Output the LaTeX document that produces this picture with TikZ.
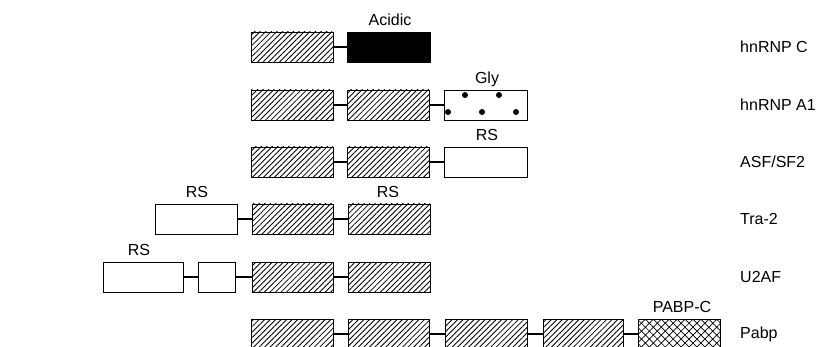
\documentclass[tikz,border=0pt]{standalone}
\usepackage{fontspec}
\setmainfont{Liberation Sans}
\usetikzlibrary{patterns.meta}
\tikzset{
  dombox/.style={draw, line width=0.9pt, minimum width=82pt, minimum height=30pt, inner sep=0pt},
  rbd/.style={dombox, pattern={Lines[angle=45,distance=3.9pt,line width=0.85pt]}},
  acidbox/.style={dombox, fill=black},
  plainbox/.style={dombox, fill=white},
  pabpc/.style={dombox, pattern={Hatch[angle=45,distance=5.6pt,line width=0.7pt]}},
  link/.style={line width=1.2pt},
  lab/.style={font=\fontsize{16}{19}\selectfont, inner sep=0pt},
  domlab/.style={lab, anchor=base},
  protlab/.style={lab, anchor=west},
  dot/.style={fill=black}
}
\begin{document}
\begin{tikzpicture}[x=1pt,y=-1pt]
\useasboundingbox (0,0) rectangle (818,347);

% hnRNP C
\node[rbd] (c1) at (292,47) {};
\node[acidbox, minimum width=83pt] (c2) at (388.5,47) {};
\draw[link] (c1.east) -- (c2.west);
\node[domlab] (cacid) at ([xshift=1.5pt,yshift=6pt]c2.north) {Acidic};
\node[protlab] (pc) at (740,47) {hnRNP C};

% hnRNP A1
\node[rbd] (a1) at (292,105) {};
\node[rbd] (a2) at (388,105) {};
\node[plainbox, minimum width=83pt] (a3) at (485.5,105) {};
\draw[link] (a1.east) -- (a2.west);
\draw[link] (a2.east) -- (a3.west);
\foreach \px/\py in {465/95, 499/95, 448/112, 482/112, 516/112}
  \fill[dot] (\px,\py) circle (3pt);
\node[domlab] (agly) at ([xshift=1.5pt,yshift=6pt]a3.north) {Gly};
\node[protlab] (pa) at (740,105) {hnRNP A1};

% ASF/SF2
\node[rbd] (s1) at (292,162) {};
\node[rbd] (s2) at (388,162) {};
\node[plainbox, minimum width=83pt] (s3) at (485.5,162) {};
\draw[link] (s1.east) -- (s2.west);
\draw[link] (s2.east) -- (s3.west);
\node[domlab] (srs) at ([xshift=1.5pt,yshift=6pt]s3.north) {RS};
\node[protlab] (ps) at (740,162) {ASF/SF2};

% Tra-2
\node[plainbox] (t1) at (196,219) {};
\node[rbd, minimum width=81pt] (t2) at (292.5,219) {};
\node[rbd] (t3) at (389,219) {};
\draw[link] (t1.east) -- (t2.west);
\draw[link] (t2.east) -- (t3.west);
\node[domlab] (trs1) at ([xshift=1pt,yshift=6pt]t1.north) {RS};
\node[domlab] (trs2) at ([xshift=-1pt,yshift=6pt]t3.north) {RS};
\node[protlab] (pt) at (740,219) {Tra-2};

% U2AF
\node[plainbox, minimum width=80pt] (u1) at (143,277) {};
\node[plainbox, minimum width=37pt] (u2) at (216.5,277) {};
\node[rbd, minimum width=81pt] (u3) at (292.5,277) {};
\node[rbd] (u4) at (389,277) {};
\draw[link] (u1.east) -- (u2.west);
\draw[link] (u2.east) -- (u3.west);
\draw[link] (u3.east) -- (u4.west);
\node[domlab] (urs) at ([xshift=-4pt,yshift=6pt]u1.north) {RS};
\node[protlab] (pu) at (740,277) {U2AF};

% Pabp
\node[rbd] (p1) at (292.5,334) {};
\node[rbd, minimum width=81pt] (p2) at (388.5,334) {};
\node[rbd] (p3) at (486,334) {};
\node[rbd, minimum width=80pt] (p4) at (583,334) {};
\node[pabpc] (p5) at (679,334) {};
\draw[link] (p1.east) -- (p2.west);
\draw[link] (p2.east) -- (p3.west);
\draw[link] (p3.east) -- (p4.west);
\draw[link] (p4.east) -- (p5.west);
\node[domlab] (ppc) at ([xshift=3pt,yshift=6pt]p5.north) {PABP-C};
\node[protlab] (pp) at (740,334) {Pabp};
\end{tikzpicture}
\end{document}
